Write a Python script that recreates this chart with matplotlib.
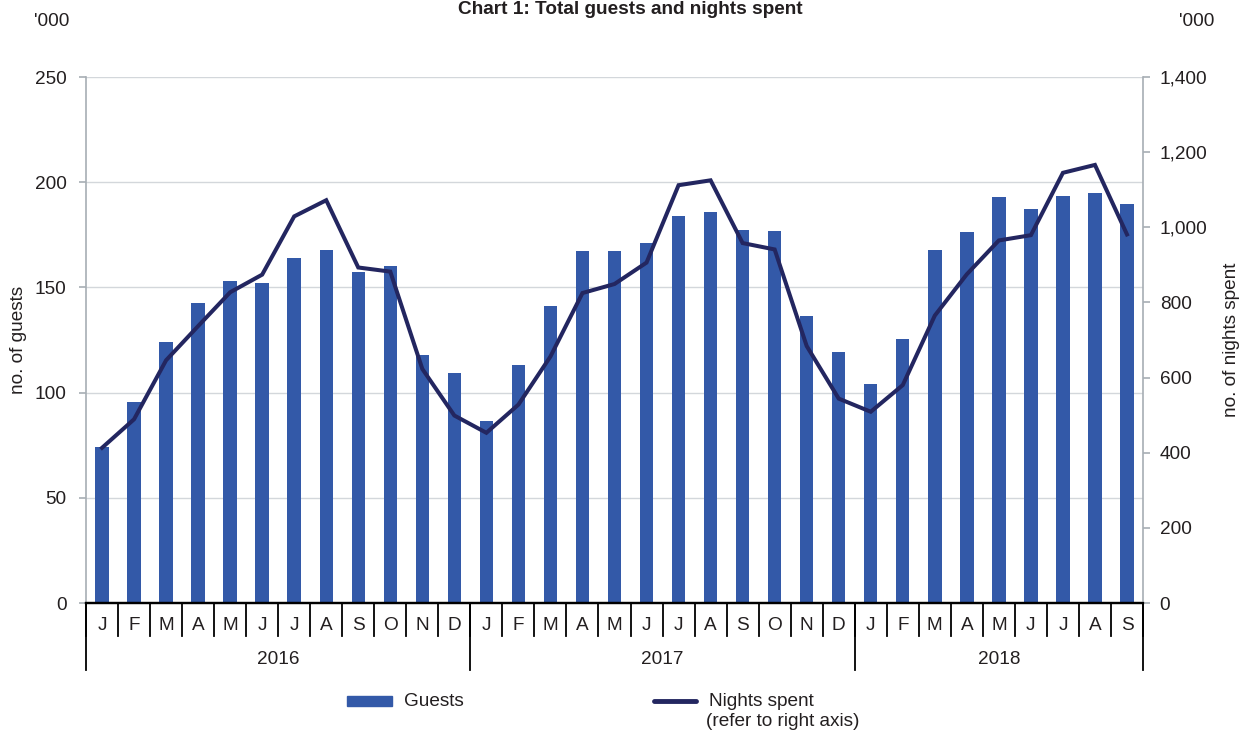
import numpy as np
import matplotlib
matplotlib.use("Agg")
import matplotlib.pyplot as plt
import matplotlib.transforms as mtransforms
from matplotlib.lines import Line2D
from matplotlib.patches import Rectangle

plt.rcParams['font.family'] = ['Liberation Sans', 'DejaVu Sans']

# monthly data, Jan 2016 - Sep 2018 ('000)
years = ['2016', '2017', '2018']
months_per_year = [12, 12, 9]
month_letters = ['J', 'F', 'M', 'A', 'M', 'J', 'J', 'A', 'S', 'O', 'N', 'D']

guests = [74.2, 95.4, 124.1, 142.4, 152.9, 152.2, 163.9, 168.0, 157.5, 160.2, 118.1, 109.1,
          86.6, 112.9, 141.2, 167.3, 167.5, 171.2, 184.0, 186.0, 177.4, 176.9, 136.3, 119.1,
          104.0, 125.3, 168.0, 176.5, 192.8, 187.2, 193.5, 194.9, 189.8]
nights = [413, 489, 646, 737, 827, 874, 1029, 1072, 893, 882, 623, 499,
          453, 528, 656, 825, 849, 906, 1112, 1125, 958, 941, 684, 544,
          509, 580, 765, 875, 965, 979, 1145, 1166, 981]

left_ticks = [0, 50, 100, 150, 200, 250]
right_ticks = [0, 200, 400, 600, 800, 1000, 1200, 1400]

BAR_COLOR = '#3359A8'
LINE_COLOR = '#232660'
GRID_COLOR = '#D3D7DB'
SPINE_COLOR = '#A7AEB4'
TEXT_COLOR = '#231F20'
FS = 13.7

labels = []
for n in months_per_year:
    labels += month_letters[:n]
x = np.arange(len(guests))

fig = plt.figure(figsize=(12.41, 7.33), dpi=100)
ax = fig.add_axes([86 / 1241, 1 - 603 / 733, (1143 - 86) / 1241, (603 - 77) / 733])
ax2 = ax.twinx()

ax.bar(x, guests, width=0.42, color=BAR_COLOR, zorder=2)
ax2.plot(x, nights, color=LINE_COLOR, lw=2.9, solid_joinstyle='miter', zorder=3)

ax.set_xlim(-0.5, len(guests) - 0.5)
ax.set_ylim(0, 250)
ax2.set_ylim(0, 1400)
ax.set_yticks(left_ticks)
ax2.set_yticks(right_ticks)
ax2.set_yticklabels([f'{v:,}' for v in right_ticks])
ax.yaxis.grid(True, color=GRID_COLOR, lw=1, zorder=0)
ax.set_axisbelow(True)
ax.set_xticks([])

for a in (ax, ax2):
    a.spines['top'].set_visible(False)
    a.spines['left'].set_color(SPINE_COLOR)
    a.spines['right'].set_color(SPINE_COLOR)
    a.spines['left'].set_linewidth(1.2)
    a.spines['right'].set_linewidth(1.2)
    a.spines['bottom'].set_color('black')
    a.spines['bottom'].set_linewidth(1.6)
    a.tick_params(axis='y', colors=SPINE_COLOR, labelcolor=TEXT_COLOR,
                  labelsize=FS, length=5, width=1.2)
ax.tick_params(axis='y', pad=9)
ax2.tick_params(axis='y', pad=7)
ax2.spines['left'].set_visible(False)
ax.spines['right'].set_visible(False)

ax.set_ylabel('no. of guests', fontsize=FS, color=TEXT_COLOR)
ax2.set_ylabel('no. of nights spent', fontsize=FS, color=TEXT_COLOR)
ax.yaxis.set_label_coords((27 - 86) / 1057, 0.5)
ax2.yaxis.set_label_coords((1223 - 86) / 1057, 0.5)

# category axis: month letters, separators and years
trans = mtransforms.blended_transform_factory(ax.transData, ax.transAxes)
px = 1.0 / (603 - 77)
for i, lab in enumerate(labels):
    ax.text(i, -23 * px, lab, transform=trans, ha='center', va='center',
            fontsize=FS, color=TEXT_COLOR)
for i in range(len(labels) + 1):
    ax.plot([i - 0.5, i - 0.5], [0, -33 * px], transform=trans, color='black',
            lw=1.3, clip_on=False)
start = 0
for yr, n in zip(years, months_per_year):
    ax.plot([start - 0.5, start - 0.5], [0, -67 * px], transform=trans,
            color='black', lw=1.3, clip_on=False)
    ax.text(start + (n - 1) / 2, -57 * px, yr, transform=trans, ha='center',
            va='center', fontsize=FS, color=TEXT_COLOR)
    start += n
ax.plot([start - 0.5, start - 0.5], [0, -67 * px], transform=trans,
        color='black', lw=1.3, clip_on=False)

# title sits right at the top edge, units above each axis
fig.text(630 / 1241, 1 - 1 / 733, 'Chart 1: Total guests and nights spent',
         ha='center', va='top', fontsize=FS, fontweight='bold', color=TEXT_COLOR)
fig.text(52 / 1241, 1 - 22 / 733, "'000", ha='center', va='center',
         fontsize=FS, color=TEXT_COLOR)
fig.text(1197 / 1241, 1 - 22 / 733, "'000", ha='center', va='center',
         fontsize=FS, color=TEXT_COLOR)

# legend drawn by hand to match the layout
fig.patches.append(Rectangle((347 / 1241, 1 - 706 / 733), 45 / 1241, 10 / 733,
                             transform=fig.transFigure, color=BAR_COLOR))
fig.text(404 / 1241, 1 - 701 / 733, 'Guests', ha='left', va='center',
         fontsize=FS, color=TEXT_COLOR)
fig.lines.append(Line2D([654 / 1241, 696 / 1241], [1 - 701 / 733, 1 - 701 / 733],
                        transform=fig.transFigure, color=LINE_COLOR, lw=3.5,
                        solid_capstyle='round'))
fig.text(709 / 1241, 1 - 701 / 733, 'Nights spent', ha='left', va='center',
         fontsize=FS, color=TEXT_COLOR)
fig.text(706 / 1241, 1 - 722 / 733, '(refer to right axis)', ha='left', va='center',
         fontsize=FS, color=TEXT_COLOR)

fig.savefig('out.png', dpi=100)
